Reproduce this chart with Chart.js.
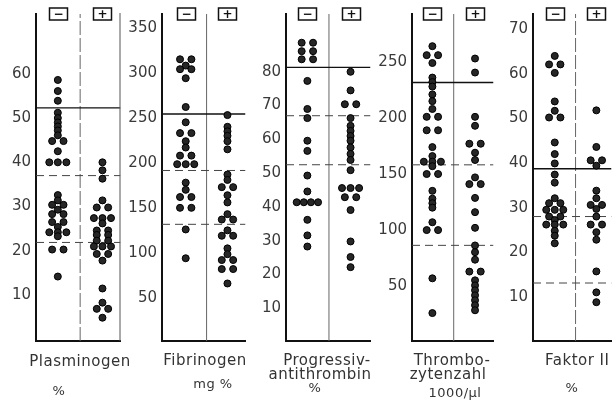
<!DOCTYPE html>
<html>
<head>
<meta charset="utf-8">
<script src="https://cdn.jsdelivr.net/npm/chart.js@4.4.0/dist/chart.umd.min.js"></script>
<style>
  body { margin: 0; background: #fff; }
  #wrap { position: relative; width: 616px; height: 400px; overflow: hidden; font-family: "DejaVu Sans", sans-serif; color: #333; }
  canvas { position: absolute; top: 0; }
  .lbl { position: absolute; font-size: 15px; letter-spacing: 0.5px; white-space: nowrap; line-height: 14px; transform: translateX(-50%); }
  .pct { font-size: 13px; }
</style>
</head>
<body>
<div id="wrap">
  <canvas id="c1"></canvas>
  <canvas id="c2"></canvas>
  <canvas id="c3"></canvas>
  <canvas id="c4"></canvas>
  <canvas id="c5"></canvas>

  <div class="lbl" style="left:80px; top:354px">Plasminogen</div>
  <div class="lbl pct" style="left:59px; top:384px">%</div>
  <div class="lbl" style="left:205px; top:353px">Fibrinogen</div>
  <div class="lbl pct" style="left:213px; top:377px">mg %</div>
  <div class="lbl" style="left:327px; top:353px">Progressiv-</div>
  <div class="lbl" style="left:320px; top:367px">antithrombin</div>
  <div class="lbl pct" style="left:315px; top:381px">%</div>
  <div class="lbl" style="left:452px; top:353px">Thrombo-</div>
  <div class="lbl" style="left:448px; top:367px">zytenzahl</div>
  <div class="lbl pct" style="left:455px; top:386px">1000/µl</div>
  <div class="lbl" style="left:545px; top:353px; transform:none">Faktor II</div>
  <div class="lbl pct" style="left:572px; top:381px">%</div>
</div>
<script>
// Plasminogen %
const plasNeg = [58.6, 56.1, 53.9, 51.2, 50, 49, 48.1, 47.2, 46.1, 44.8, 44.8, 42.5, 40, 40, 40,
                 32.6, 31.4, 30.4, 30.4, 29.3, 28.3, 28.3, 26.5, 26.5, 25.4, 24.2, 24.2, 24.2, 23.3, 20.3, 20.3, 14.2];
const plasPos = [40, 38.2, 36.3, 31.4, 29.8, 29.8, 27.4, 27.4, 27.4, 26.2, 24.6, 24.6, 23.6, 23.6, 22.3, 22.3,
                 21, 21, 21, 19.3, 19.3, 17.8, 11.5, 8.3, 6.9, 6.9, 4.9];
const plasLines = [52.3, 37, 21.9];
const plasTicks = [10, 20, 30, 40, 50, 60];

// Fibrinogen mg %
const fibNeg = [315, 315, 308, 304, 304, 294, 262, 245, 233, 233, 224, 217, 208, 208, 198.5, 198.5, 198.5,
                178, 170, 162, 162, 150, 150, 126, 94];
const fibPos = [253, 240, 235, 230, 224, 215, 187, 181, 173, 173, 164, 156, 143, 137, 137, 125, 119, 119,
                105, 98.5, 92, 92, 82, 82, 66];
const fibLines = [254.3, 191.5, 131.7];
const fibTicks = [50, 100, 150, 200, 250, 300, 350];

// Progressiv-antithrombin %
const patNeg = [88.6, 88.6, 86.1, 86.1, 83.7, 83.7, 77.3, 69, 66.3, 59.6, 56.6, 49.3, 44.6, 41.4, 41.4, 41.4, 41.4,
                36.2, 31.6, 28.3];
const patPos = [80, 74.5, 70.4, 70.4, 66.3, 64, 62.5, 61, 59.6, 57.6, 55.7, 53.9, 50.9, 45.6, 45.6, 45.6,
                42.9, 42.9, 39.1, 29.8, 25.2, 22.2];
const patLines = [81.3, 67, 52.5];
const patTicks = [10, 20, 30, 40, 50, 60, 70, 80];

// Thrombozytenzahl 1000/µl
const thrNeg = [264, 256, 256, 249, 236, 232, 228, 221, 215, 208, 201, 201, 189, 189, 174, 166, 161, 161, 161,
                157, 150, 150, 135, 128, 124, 120, 107, 100, 100, 57, 26];
const thrPos = [253, 240.5, 201, 193, 177, 177, 169, 162.5, 147, 141, 141, 128.7, 116, 102, 86.3, 80.3, 73.6,
                63, 63, 55.2, 50.7, 46.3, 41.8, 37.4, 33, 28.5];
const thrLines = [231.6, 158.2, 86.4];
const thrTicks = [50, 100, 150, 200, 250];

// Faktor II %
const fakNeg = [64, 62.1, 62.1, 60.2, 53.8, 51.7, 50.2, 50.2, 44.6, 42, 39.9, 37.4, 35.6, 32.1, 31, 31,
                29.5, 29.5, 29.5, 28, 28, 27.2, 26.2, 26.2, 26.2, 24.8, 23.7, 22];
const fakPos = [51.8, 43.6, 40.6, 40.6, 39.4, 33.8, 32.1, 30.6, 30.6, 29.7, 28, 26.2, 26.2, 24.5, 22.8,
                15.7, 11, 8.8];
const fakLines = [38.7, 28, 13.1];
const fakTicks = [10, 20, 30, 40, 50, 60, 70];

const LABEL_W = 36;

const panels = [
  { id: 'c1', neg: plasNeg, pos: plasPos, lines: plasLines, ticks: plasTicks, yMin: -0.36, yMax: 73.5,
    axisX: 36, right: 125, xMin: 0.511, xMax: 2.404, divDash: [14, 3], edge: true },
  { id: 'c2', neg: fibNeg, pos: fibPos, lines: fibLines, ticks: fibTicks, yMin: 2.1, yMax: 365.3,
    axisX: 162, right: 250, xMin: 0.432, xMax: 2.432, divDash: [] },
  { id: 'c3', neg: patNeg, pos: patPos, lines: patLines, ticks: patTicks, yMin: 0.35, yMax: 97.1,
    axisX: 286, right: 375, xMin: 0.505, xMax: 2.462, divDash: [] },
  { id: 'c4', neg: thrNeg, pos: thrPos, lines: thrLines, ticks: thrTicks, yMin: 1.1, yMax: 292.7,
    axisX: 412, right: 498, xMin: 0.522, xMax: 2.433, divDash: [] },
  { id: 'c5', neg: fakNeg, pos: fakPos, lines: fakLines, ticks: fakTicks, yMin: 0.1, yMax: 73.4,
    axisX: 533, right: 616, xMin: 0.477, xMax: 2.364, divDash: [14, 3] }
];

// equal values sit side by side, centred on the column
function spread(values, col, ppu) {
  const counts = {};
  values.forEach(v => counts[v] = (counts[v] || 0) + 1);
  const seen = {};
  return values.map(v => {
    const n = counts[v];
    const i = seen[v] = (seen[v] === undefined ? 0 : seen[v] + 1);
    const gap = n === 2 ? 12 : (n === 3 ? 9 : 7.5);
    return { x: col + (i - (n - 1) / 2) * gap / ppu, y: v };
  });
}

// the little [-] [+] boxes on top
const boxPlugin = {
  id: 'boxes',
  afterDraw(chart, args, opts) {
    const ctx = chart.ctx;
    const xs = chart.scales.x;
    ctx.save();
    [[1, '\u2212'], [2, '+']].forEach(([col, sign]) => {
      const x = Math.round(xs.getPixelForValue(col)) + 0.5;
      ctx.strokeStyle = '#111';
      ctx.lineWidth = 1.5;
      ctx.strokeRect(x - 9, 8, 18, 12);
      ctx.fillStyle = '#111';
      ctx.font = 'bold 12px "DejaVu Sans"';
      ctx.textAlign = 'center';
      ctx.textBaseline = 'middle';
      ctx.fillText(sign, x, 14.5);
    });
    if (opts.edge) {
      ctx.strokeStyle = '#555';
      ctx.lineWidth = 1;
      ctx.beginPath();
      ctx.moveTo(chart.chartArea.right - 0.5, 13);
      ctx.lineTo(chart.chartArea.right - 0.5, chart.chartArea.bottom);
      ctx.stroke();
    }
    ctx.restore();
  }
};

panels.forEach(p => {
  const cv = document.getElementById(p.id);
  const w = LABEL_W + (p.right - p.axisX);
  cv.width = w;
  cv.height = 400;
  cv.style.left = (p.axisX - LABEL_W) + 'px';
  const ppu = (p.right - p.axisX) / (p.xMax - p.xMin);

  const dotStyle = {
    pointRadius: 3.5, pointBackgroundColor: '#262626', pointBorderColor: '#000', pointBorderWidth: 1,
    pointHoverRadius: 3.5
  };
  const datasets = [
    Object.assign({ data: spread(p.neg, 1, ppu) }, dotStyle),
    Object.assign({ data: spread(p.pos, 2, ppu) }, dotStyle)
  ];
  p.lines.forEach((v, i) => {
    datasets.push({
      data: [{ x: p.xMin, y: v }, { x: p.xMax, y: v }],
      showLine: true, pointRadius: 0,
      borderColor: i === 0 ? '#111' : '#444',
      borderWidth: i === 0 ? 1.4 : 1,
      borderDash: i === 0 ? [] : [8, 5]
    });
  });
  datasets.push({
    data: [{ x: 1.5, y: p.yMin }, { x: 1.5, y: p.yMax }],
    showLine: true, pointRadius: 0, borderColor: '#666', borderWidth: 1, borderDash: p.divDash
  });

  new Chart(cv, {
    type: 'scatter',
    data: { datasets: datasets },
    options: {
      responsive: false,
      animation: false,
      layout: { padding: { top: 13, bottom: 59, left: 0, right: 0 } },
      plugins: { legend: { display: false }, tooltip: { enabled: false }, boxes: { edge: !!p.edge } },
      scales: {
        x: {
          type: 'linear', min: p.xMin, max: p.xMax,
          grid: { display: false, drawTicks: false },
          ticks: { display: false },
          border: { display: true, color: '#111', width: 2 },
          afterFit: s => { s.height = 0; }
        },
        y: {
          min: p.yMin, max: p.yMax,
          grid: { display: false, drawTicks: false },
          border: { display: true, color: '#111', width: 2 },
          ticks: { padding: 5, autoSkip: false, color: '#3a3a3a', font: { family: 'DejaVu Sans', size: 15 } },
          afterBuildTicks: s => { s.ticks = p.ticks.map(v => ({ value: v })); },
          afterFit: s => { s.width = LABEL_W; }
        }
      }
    },
    plugins: [boxPlugin]
  });
});
</script>
</body>
</html>
